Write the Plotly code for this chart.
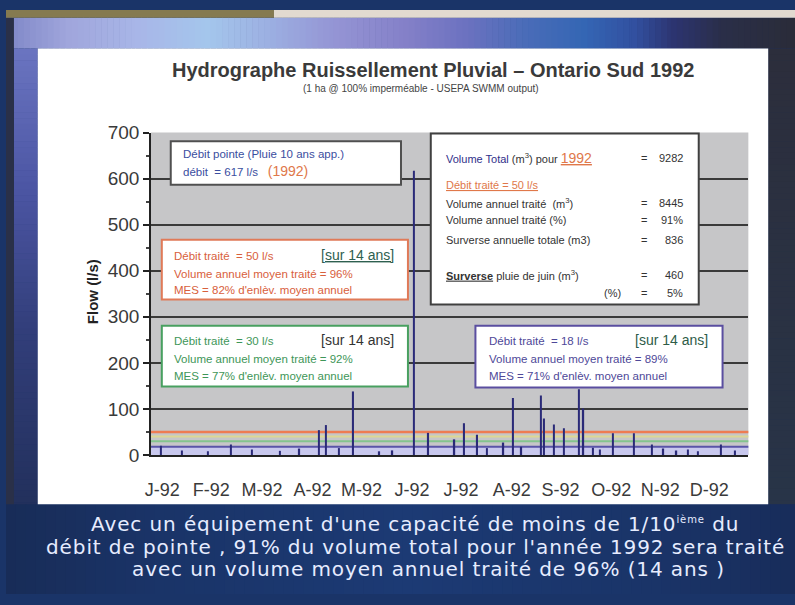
import plotly.graph_objects as go

W, H = 795, 605

# ---------------- data ----------------
event_dates = ["1992-01-07", "1992-01-20", "1992-02-05", "1992-02-19", "1992-03-03",
               "1992-03-20", "1992-04-01", "1992-04-13", "1992-04-17", "1992-04-25",
               "1992-05-04", "1992-05-20", "1992-05-28", "1992-06-10", "1992-06-19",
               "1992-07-05", "1992-07-11", "1992-07-19", "1992-07-25", "1992-08-04",
               "1992-08-10", "1992-08-15", "1992-08-27", "1992-08-29", "1992-09-04",
               "1992-09-10", "1992-09-19", "1992-09-22", "1992-09-28", "1992-10-02",
               "1992-10-10", "1992-10-23", "1992-11-03", "1992-11-10", "1992-11-18",
               "1992-11-25", "1992-12-01", "1992-12-15", "1992-12-24"]
event_flows = [20, 10, 8, 23, 12,
               9, 14, 54, 65, 15,
               138, 8, 10, 617, 48,
               34, 69, 44, 15, 27,
               124, 18, 129, 79, 66,
               58, 143, 101, 16, 12,
               47, 47, 23, 14, 10,
               12, 8, 23, 10]

threshold_flows = [50, 40, 30, 18]
threshold_colors = ["#ee7c52", "#dcd894", "#84c48e", "#5a54a8"]

month_tick_dates = ["1992-01-08", "1992-02-07", "1992-03-09", "1992-04-09", "1992-05-09",
                    "1992-06-09", "1992-07-09", "1992-08-09", "1992-09-08", "1992-10-09",
                    "1992-11-08", "1992-12-08"]
month_labels = ["J-92", "F-92", "M-92", "A-92", "M-92", "J-92",
                "J-92", "A-92", "S-92", "O-92", "N-92", "D-92"]
y_ticks = [0, 100, 200, 300, 400, 500, 600, 700]


def px(x):
    return x / W


def py(y):
    return 1 - y / H


shapes = []


def prect(x0, y0, x1, y1, fill, line=None, lw=0, layer="below"):
    shapes.append(dict(type="rect", xref="paper", yref="paper",
                       x0=px(x0), x1=px(x1), y0=py(y1), y1=py(y0),
                       fillcolor=fill, layer=layer,
                       line=dict(color=line or fill, width=lw)))


def hex2rgb(h):
    h = h.lstrip("#")
    return [int(h[i:i + 2], 16) for i in (0, 2, 4)]


def blend(c1, c2, t):
    a, b = hex2rgb(c1), hex2rgb(c2)
    return "rgb(%d,%d,%d)" % tuple(round(a[i] + (b[i] - a[i]) * t) for i in range(3))


def hgrad(anchors, y0, y1, step=6):
    # horizontal gradient band (background decoration)
    for i in range(len(anchors) - 1):
        xa, ca = anchors[i]
        xb, cb = anchors[i + 1]
        x = xa
        while x < xb:
            x2 = min(x + step, xb)
            prect(x, y0, x2 + 0.6, y1, blend(ca, cb, (x - xa) / (xb - xa)))
            x = x2


def vgrad(anchors, x0, x1, step=6):
    for i in range(len(anchors) - 1):
        ya, ca = anchors[i]
        yb, cb = anchors[i + 1]
        y = ya
        while y < yb:
            y2 = min(y + step, yb)
            prect(x0, y, x1, y2 + 0.6, blend(ca, cb, (y - ya) / (yb - ya)))
            y = y2


# slide background
hgrad([(0, "#8088c8"), (60, "#a0a6dc"), (130, "#a8b6e8"), (200, "#a4c6ec"),
       (260, "#9cb0e2"), (330, "#9494d4"), (400, "#8480c8"), (460, "#6c72c0"),
       (520, "#4a6cb8"), (580, "#3466b4"), (630, "#3250a0"), (670, "#2c3470"),
       (720, "#2a2e48"), (W, "#2a2c38")], 8, 40)
vgrad([(40, "#6a74c0"), (180, "#4c56a4"), (330, "#323e7a"), (512, "#22305c")], 8, 32)
prect(0, 8, 8, 605, "#2a3048")
vgrad([(40, "#2c2e3c"), (512, "#283448")], 768, W)
hgrad([(0, "#182c58"), (150, "#1a3468"), (400, "#1c3a74"), (650, "#1a3468"),
       (W, "#182c5a")], 512, 605, step=10)
prect(0, 0, 270, 8, "#857a50")
prect(270, 0, W, 8, "#e2dad0")
# white panel and plot background
prect(32, 40, 768, 512, "#ffffff")
prect(146, 127, 748, 461, "#c6c6c8")

# lavender band and threshold lines (data coordinates)
shapes.append(dict(type="rect", xref="x domain", yref="y", x0=0, x1=1,
                   y0=0, y1=threshold_flows[3], fillcolor="#c8c8ee",
                   line=dict(width=0), layer="below"))
for f, c in zip(threshold_flows, threshold_colors):
    shapes.append(dict(type="line", xref="x domain", yref="y", x0=0, x1=1,
                       y0=f, y1=f, line=dict(color=c, width=2.5 if f == 50 else 2),
                       layer="below"))

# text boxes
prect(166, 136, 398, 181, "#ffffff", "#505050", 2, "above")
prect(157, 238, 405, 300, "#ffffff", "#e07a58", 2, "above")
prect(157, 327, 405, 390, "#ffffff", "#48a060", 2, "above")
prect(473, 327, 722, 391, "#ffffff", "#5a4ea0", 2, "above")
prect(428, 128, 698, 305, "#ffffff", "#404040", 2, "above")

annotations = []


def ann(x, y, text, size=11, color="#333333", xanchor="left", family="Liberation Sans",
        angle=0, yanchor="middle"):
    annotations.append(dict(x=px(x), y=py(y), xref="paper", yref="paper",
                            text=text, showarrow=False, xanchor=xanchor,
                            yanchor=yanchor, textangle=angle,
                            font=dict(size=size, color=color, family=family)))


U = "<span style='text-decoration:underline'>%s</span>"

# titles
ann(430, 62, "<b>Hydrographe Ruissellement Pluvial – Ontario Sud 1992</b>", 20,
    "#3a3a3a", "center")
ann(418, 81, "(1 ha @ 100% imperméable - USEPA SWMM output)", 10, "#444444", "center")
ann(88, 292, "<b>Flow (l/s)</b>", 15, "#222222", "center", angle=-90)

# blue box
blue = "#3a4ea0"
ann(176, 149, "Débit pointe (Pluie 10 ans app.)", 11.5, blue)
ann(176, 167, "débit  = 617 l/s   <span style='color:#e0784a;font-size:14px'>(1992)</span>",
    11.5, blue)

# orange box
org = "#d8603c"
ann(167, 255, "Débit traité  = 50 l/s", 11.5, org)
ann(393, 254, U % "[sur 14 ans]", 14, "#2e6050", "right")
ann(167, 273, "Volume annuel moyen traité = 96%", 11.5, org)
ann(167, 290, "MES = 82% d'enlèv. moyen annuel", 11.5, org)

# green box
grn = "#3e9658"
ann(167, 343, "Débit traité  = 30 l/s", 11.5, grn)
ann(393, 342, "[sur 14 ans]", 14, "#333333", "right")
ann(167, 362, "Volume annuel moyen traité = 92%", 11.5, grn)
ann(167, 379, "MES = 77% d'enlèv. moyen annuel", 11.5, grn)

# purple box
pur = "#4e4898"
ann(485, 343, "Débit traité  = 18 l/s", 11.5, pur)
ann(709, 342, "[sur 14 ans]", 14, "#2e5c48", "right")
ann(485, 362, "Volume annuel moyen traité = 89%", 11.5, pur)
ann(485, 379, "MES = 71% d'enlèv. moyen annuel", 11.5, pur)

# summary box
ann(441, 153, "<span style='color:#30308a'>Volume Total</span> (m<sup>3</sup>) pour "
    "<span style='color:#e0784a;font-size:14px'>" + U % "1992" + "</span>", 11)
ann(441, 181, "<span style='color:#e0784a'>" + U % "Débit traité = 50 l/s" + "</span>", 11)
ann(441, 200, "Volume annuel traité  (m<sup>3</sup>)", 11)
ann(441, 218, "Volume annuel traité (%)", 11)
ann(441, 238, "Surverse annuelle totale (m3)", 11)
ann(441, 275, "<b>" + U % "Surverse" + "</b> pluie de juin (m<sup>3</sup>)", 11)
ann(622, 293, "(%)", 11, xanchor="right")
vals = ["9282", "8445", "91%", "836", "460", "5%"]
rows = [153, 200, 218, 238, 275, 293]
for v, r in zip(vals, rows):
    ann(643, r, "=", 11, xanchor="center")
    ann(684, r, v, 11, xanchor="right")

# bottom slide text
bt = "#e6ecff"
LS = "<span style='letter-spacing:0.9px'>%s</span>"
ann(412, 533, LS % "Avec un équipement d'une capacité de moins de 1/10"
    "<sup><span style='font-size:10px'>ième</span></sup>" + LS % " du",
    20, bt, "center", "DejaVu Sans")
ann(413, 556, LS % "débit de pointe , 91% du volume total pour l'année 1992 sera traité",
    20, bt, "center", "DejaVu Sans")
ann(426, 579, LS % "avec un volume moyen annuel traité de 96% (14 ans )",
    20, bt, "center", "DejaVu Sans")

fig = go.Figure()
fig.add_trace(go.Bar(x=event_dates, y=event_flows, width=86400000 * 0.8,
                     marker=dict(color="#2a2a78", line=dict(width=0)),
                     showlegend=False, hoverinfo="x+y"))

fig.update_layout(
    width=W, height=H, autosize=False,
    margin=dict(l=0, r=0, t=0, b=0),
    paper_bgcolor="#1a3468", plot_bgcolor="rgba(0,0,0,0)",
    shapes=shapes, annotations=annotations, showlegend=False,
    xaxis=dict(domain=[px(146), px(748)], type="date",
               range=["1992-01-01", "1993-01-01"],
               tickmode="array", tickvals=month_tick_dates, ticktext=month_labels,
               ticks="outside", ticklen=18, tickcolor="rgba(0,0,0,0)",
               showgrid=False, showline=True, linecolor="#222222", linewidth=1.5,
               tickfont=dict(family="Liberation Sans", size=18, color="#3a3a3a"),
               fixedrange=True),
    yaxis=dict(domain=[py(461), py(127)], range=[0, 700],
               tickmode="array", tickvals=y_ticks,
               ticks="outside", ticklen=6, tickwidth=1.5, tickcolor="#222222",
               minor=dict(dtick=50, ticks="outside", ticklen=3, tickcolor="#444444",
                          showgrid=False),
               showgrid=True, gridcolor="#3a3a3a", gridwidth=1.5, zeroline=False,
               showline=True, linecolor="#222222", linewidth=1.5,
               tickfont=dict(family="Liberation Sans", size=19, color="#3a3a3a"),
               fixedrange=True),
)

fig.write_html("out.html", config={"displayModeBar": False},
               post_script="document.body.style.margin='0';document.body.style.overflow='hidden';")
